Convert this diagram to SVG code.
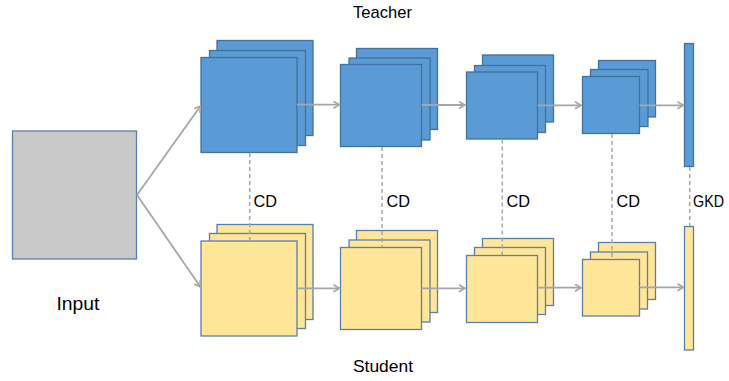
<svg xmlns="http://www.w3.org/2000/svg" width="729" height="381" viewBox="0 0 729 381">
<style>
.t{fill:#5B9BD5;stroke:#41719C;stroke-width:1.3}
.s{fill:#FFE699;stroke:#5B7FA8;stroke-width:1.3}
.in{fill:#C9C9C9;stroke:#5B7FA8;stroke-width:1.3}
.arr{stroke:#A6A6A6;stroke-width:1.8;fill:none}
.dash{stroke:#A6A6A6;stroke-width:1.5;stroke-dasharray:4,3;fill:none}
text{font-family:"Liberation Sans",Arial,sans-serif;fill:#000}
.lbl{font-size:17px}
</style>
<defs>
<marker id="ah" markerUnits="userSpaceOnUse" markerWidth="10" markerHeight="10" refX="7" refY="4" orient="auto">
<path d="M1,0.5 L7,4 L1,7.5" fill="none" stroke="#A6A6A6" stroke-width="1.6"/>
</marker>
</defs>

<g id="input">
<rect class="in" x="12.5" y="131" width="124" height="128"/>
<text x="78" y="310" font-size="18" text-anchor="middle" textLength="43" lengthAdjust="spacingAndGlyphs">Input</text>
</g>

<g id="teacher-label"><text class="lbl" x="382.5" y="17.5" text-anchor="middle" textLength="59" lengthAdjust="spacingAndGlyphs">Teacher</text></g>
<g id="student-label"><text class="lbl" x="383" y="372" text-anchor="middle" textLength="60" lengthAdjust="spacingAndGlyphs">Student</text></g>

<g id="teacher1">
<rect class="t" x="217" y="40.5" width="96" height="95"/>
<rect class="t" x="209.5" y="50.5" width="96" height="95"/>
<rect class="t" x="201" y="57.5" width="96" height="95"/>
</g>
<g id="teacher2">
<rect class="t" x="356.5" y="48.5" width="81" height="81"/>
<rect class="t" x="349" y="58" width="81" height="82"/>
<rect class="t" x="340.5" y="64.5" width="81" height="82"/>
</g>
<g id="teacher3">
<rect class="t" x="482.5" y="55" width="71" height="67"/>
<rect class="t" x="474.5" y="65.5" width="71" height="67"/>
<rect class="t" x="466.5" y="72" width="71" height="67"/>
</g>
<g id="teacher4">
<rect class="t" x="598.5" y="60.5" width="57" height="56.5"/>
<rect class="t" x="590.5" y="69.5" width="57.5" height="57"/>
<rect class="t" x="582.5" y="76.5" width="57" height="57"/>
</g>
<g id="teacher-out">
<rect class="t" x="684.5" y="43.5" width="9" height="123"/>
</g>

<g id="student1">
<rect class="s" x="217" y="224.5" width="96" height="95"/>
<rect class="s" x="209.5" y="233.5" width="96" height="95"/>
<rect class="s" x="201" y="241" width="96" height="95"/>
</g>
<g id="student2">
<rect class="s" x="356.5" y="230.5" width="81" height="82"/>
<rect class="s" x="349" y="240" width="81" height="82"/>
<rect class="s" x="340.5" y="247.5" width="81" height="82"/>
</g>
<g id="student3">
<rect class="s" x="482.5" y="238.5" width="71" height="67"/>
<rect class="s" x="474.5" y="247.5" width="71" height="67"/>
<rect class="s" x="466.5" y="255.5" width="71" height="67"/>
</g>
<g id="student4">
<rect class="s" x="598.5" y="242.5" width="57" height="57"/>
<rect class="s" x="590.5" y="252" width="57" height="57"/>
<rect class="s" x="582.5" y="259.5" width="57" height="56.5"/>
</g>
<g id="student-out">
<rect class="s" x="684.5" y="226.5" width="9" height="123.5"/>
</g>

<g id="connectors">
<path class="arr" d="M137,195 L200.5,106" marker-end="url(#ah)"/>
<path class="arr" d="M137,195 L200.5,287" marker-end="url(#ah)"/>
<path class="arr" d="M297,104.7 L339.5,104.7" marker-end="url(#ah)"/>
<path class="arr" d="M421.5,105 L465,105" marker-end="url(#ah)"/>
<path class="arr" d="M537.5,105.3 L581,105.3" marker-end="url(#ah)"/>
<path class="arr" d="M639.5,105.3 L683.5,105.3" marker-end="url(#ah)"/>
<path class="arr" d="M297,288.3 L339.5,288.3" marker-end="url(#ah)"/>
<path class="arr" d="M421.5,288.3 L465,288.3" marker-end="url(#ah)"/>
<path class="arr" d="M537.5,287.7 L581,287.7" marker-end="url(#ah)"/>
<path class="arr" d="M639.5,287.3 L683.5,287.3" marker-end="url(#ah)"/>
<path class="dash" d="M249.7,153 L249.7,240.5"/>
<path class="dash" d="M382,147 L382,247"/>
<path class="dash" d="M502.3,139.5 L502.3,255"/>
<path class="dash" d="M612,134 L612,259"/>
<path class="dash" d="M689.7,167 L689.7,226"/>
<text class="lbl" x="253.5" y="206.5" textLength="23.5" lengthAdjust="spacingAndGlyphs">CD</text>
<text class="lbl" x="386.5" y="206.5" textLength="23.5" lengthAdjust="spacingAndGlyphs">CD</text>
<text class="lbl" x="506.5" y="206.5" textLength="23.5" lengthAdjust="spacingAndGlyphs">CD</text>
<text class="lbl" x="616.5" y="206.5" textLength="23.5" lengthAdjust="spacingAndGlyphs">CD</text>
<text class="lbl" x="693" y="206.5" textLength="31" lengthAdjust="spacingAndGlyphs">GKD</text>
</g>
</svg>
